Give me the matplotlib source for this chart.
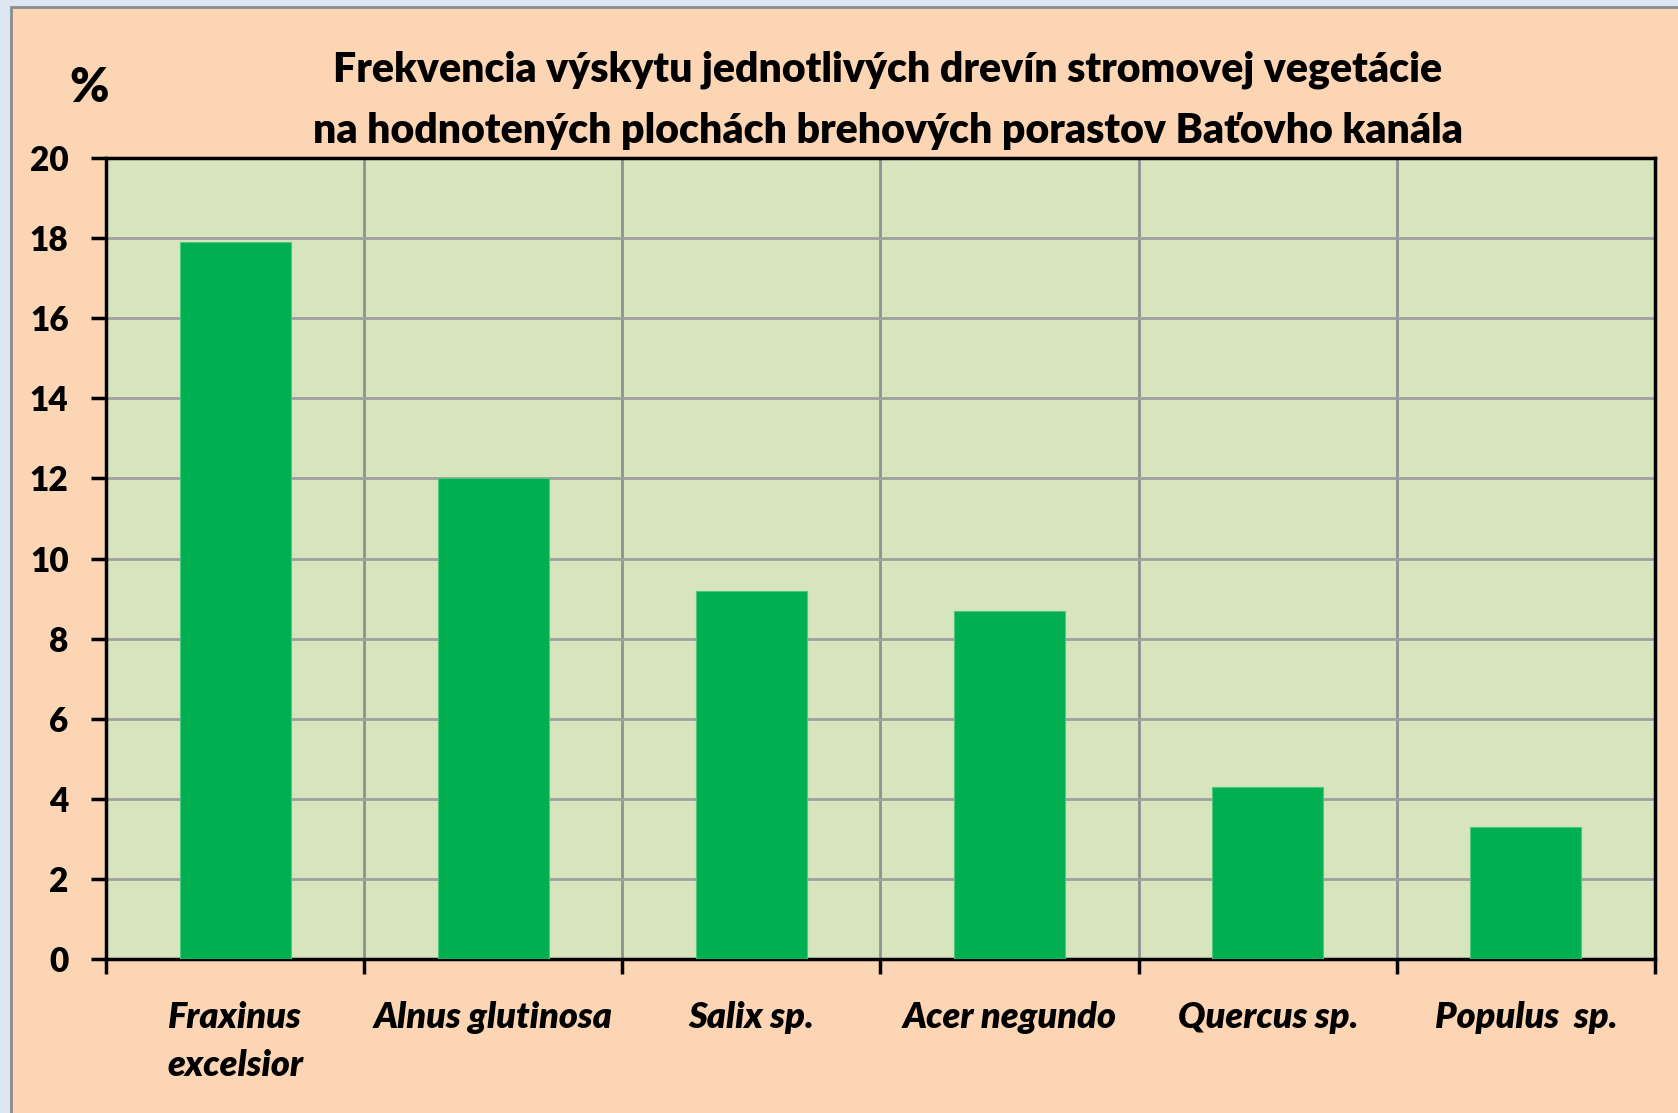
import numpy as np
import matplotlib.pyplot as plt
from matplotlib.patches import Rectangle

# data
druhy = ["Fraxinus\nexcelsior", "Alnus glutinosa", "Salix sp.", "Acer negundo",
         "Quercus sp.", "Populus  sp."]
hodnoty = [17.9, 12.0, 9.2, 8.7, 4.3, 3.3]
y_ticky = [0, 2, 4, 6, 8, 10, 12, 14, 16, 18, 20]

W, H = 1678, 1113
fig = plt.figure(figsize=(W / 100, H / 100), dpi=100)
fig.patch.set_facecolor("#DCE6F2")
# oranzove pozadie grafu s okrajom
fig.patches.append(Rectangle((11 / W, -0.05), 1.2, 1.05 - 7 / H, transform=fig.transFigure,
                             facecolor="#FCD5B5", edgecolor="#8C8C8C", linewidth=2, zorder=-5))

ax = fig.add_axes([106 / W, 1 - 959 / H, (1655 - 106) / W, (959 - 158) / H])
ax.set_facecolor("#D7E4BD")

x = np.arange(len(hodnoty))
ax.bar(x, hodnoty, width=0.43, color="#00B050", edgecolor="#4CC97F", linewidth=0.8, zorder=3)

ax.set_xlim(-0.5, len(hodnoty) - 0.5)
ax.set_ylim(0, 20)
ax.set_yticks(y_ticky)
ax.set_yticklabels([str(v) for v in y_ticky], fontsize=24, fontweight="heavy", family="Lato")
ax.yaxis.grid(True, color="#A0A0A0", linewidth=2, zorder=1)

# zvisle ciary medzi kategoriami
hranice = np.arange(len(hodnoty) + 1) - 0.5
ax.set_xticks(hranice)
ax.set_xticklabels([])
ax.xaxis.grid(True, color="#909090", linewidth=2, zorder=1)
ax.set_xticks(x, minor=True)
ax.set_xticklabels(druhy, minor=True, fontsize=26, fontweight="heavy", style="italic",
                   family="Lato", linespacing=1.55)
ax.tick_params(axis="x", which="minor", length=0, pad=30)
ax.tick_params(axis="x", which="major", length=11, width=2.5, direction="out")
ax.tick_params(axis="y", length=11, width=2.5, direction="out", pad=16)
for s in ax.spines.values():
    s.set_linewidth(2.5)
    s.set_color("black")

fig.text(888 / W, 1 - 70 / H, "Frekvencia výskytu jednotlivých drevín stromovej vegetácie",
         ha="center", va="center", fontsize=29.5, fontweight="heavy", family="Lato")
fig.text(888 / W, 1 - 131 / H, "na hodnotených plochách brehových porastov Baťovho kanála",
         ha="center", va="center", fontsize=29.5, fontweight="heavy", family="Lato")
fig.text(89 / W, 1 - 88 / H, "%", ha="center", va="center", fontsize=34, fontweight="heavy",
         family="Lato")

plt.savefig("out.png", dpi=100, facecolor=fig.get_facecolor())
